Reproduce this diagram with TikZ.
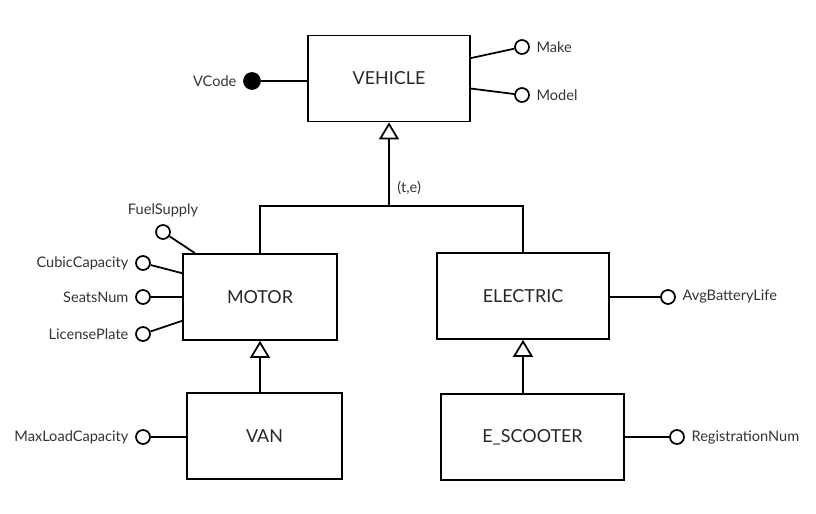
\documentclass[tikz,border=0pt]{standalone}
\usepackage{fontspec}
\setmainfont{Lato}
\usetikzlibrary{arrows.meta}

\begin{document}
\begin{tikzpicture}[x=0.02cm, y=-0.02cm, line width=1pt,
	entity/.style={draw, rectangle, minimum height=1.72cm, text=black!85, font=\fontsize{10.2}{12}\selectfont},
	attr/.style={draw, circle, inner sep=0pt, minimum size=0.28cm, fill=white, label distance=2pt},
	key/.style={attr, fill=black, minimum size=0.32cm},
	isa/.style={-{Triangle[open, length=0.34cm, width=0.4cm]}},
	small/.style={text=black!80, font=\fontsize{8.3}{10}\selectfont},
	every label/.style={small}]
  \useasboundingbox (0,0) rectangle (816,514);
  \node[entity, minimum width=3.24cm] (vehicle) at (389,78.5) {VEHICLE};
  \node[entity, minimum width=3.08cm] (motor) at (260,297) {MOTOR};
  \node[entity, minimum width=3.44cm] (electric) at (523,296) {ELECTRIC};
  \node[entity, minimum width=3.10cm] (van) at (264.5,436) {VAN};
  \node[entity, minimum width=3.66cm] (escooter) at (532.5,437) {E\_SCOOTER};
  \coordinate (hub) at (389,206);

  \draw[isa] (hub) -- node[pos=0.22, right=1pt, small] {(t,e)} (vehicle);
  \draw (motor.north) |- (hub) -| (electric.north);
  \draw[isa] (motor.south |- van.north) -- (motor.south);
  \draw[isa] (electric.south |- escooter.north) -- (electric.south);

  \node[key, label=left:VCode] (vcode) at (252,81) {};
  \node[attr, label=right:Make] (make) at (522,47) {};
  \node[attr, label=right:Model] (model) at (522,95) {};
  \node[attr, label={[label distance=0pt]above:FuelSupply}] (fuel) at (163,232) {};
  \node[attr, label=left:CubicCapacity] (cubic) at (143,263) {};
  \node[attr, label=left:SeatsNum] (seats) at (143,297) {};
  \node[attr, label=left:LicensePlate] (plate) at (143,334) {};
  \node[attr, label=left:MaxLoadCapacity] (maxload) at (143,437) {};
  \node[attr, label=right:AvgBatteryLife] (battery) at (668,297) {};
  \node[attr, label=right:RegistrationNum] (regnum) at (677,437) {};

  \draw (vcode) -- (vcode -| vehicle.west);
  \draw (make) -- (vehicle.14);
  \draw (model) -- (vehicle.-7);
  \draw (fuel) -- (motor.146);
  \draw (cubic) -- (motor.163);
  \draw (seats) -- (seats -| motor.west);
  \draw (plate) -- (motor.197);
  \draw (maxload) -- (maxload -| van.west);
  \draw (battery) -- (battery -| electric.east);
  \draw (regnum) -- (regnum -| escooter.east);
\end{tikzpicture}
\end{document}
